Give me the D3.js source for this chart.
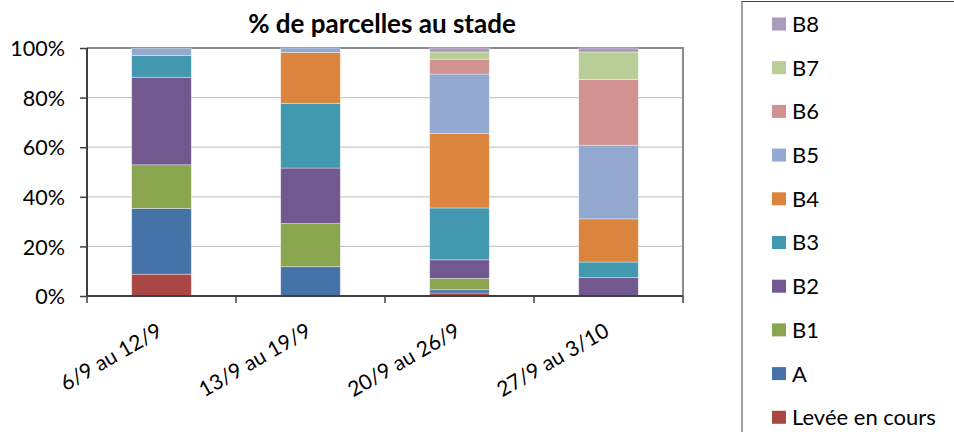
<!DOCTYPE html>
<html>
<head>
<meta charset="utf-8">
<script src="https://cdn.jsdelivr.net/npm/d3@7"></script>
<style>
body { margin: 0; background: #fff; }
text { font-family: Lato, "Open Sans", sans-serif; fill: #000; }
</style>
</head>
<body>
<script>
// semaines
var categories = ["6/9 au 12/9", "13/9 au 19/9", "20/9 au 26/9", "27/9 au 3/10"]

// % de parcelles par stade
var levee  = [8.8, 0, 1.2, 0]
var stadeA = [26.5, 11.8, 1.3, 0]
var b1 = [17.6, 17.4, 4.6, 0]
var b2 = [35.3, 22.4, 7.5, 7.4]
var b3 = [8.8, 26.1, 20.9, 6.3]
var b4 = [0, 20.5, 30.0, 17.4]
var b5 = [2.9, 1.8, 24.0, 29.7]
var b6 = [0, 0, 6.0, 26.5]
var b7 = [0, 0, 2.9, 11.1]
var b8 = [0, 0, 1.6, 1.6]

var seriesNames = ["Levée en cours", "A", "B1", "B2", "B3", "B4", "B5", "B6", "B7", "B8"]
var seriesValues = [levee, stadeA, b1, b2, b3, b4, b5, b6, b7, b8]
var seriesColors = ["#AA4643", "#4572A7", "#89A54E", "#71588F", "#4198AF",
    "#DB843D", "#93A9CF", "#D19392", "#B9CD96", "#A99BBD"]
var yTicks = [0, 20, 40, 60, 80, 100]

var width = 954, height = 432
var margin = {top: 48, right: 271, bottom: 136, left: 87}

var rows = categories.map(function (c, i) {
    var r = {cat: c}
    seriesNames.forEach(function (s, j) { r[s] = seriesValues[j][i] })
    return r
})
var stacked = d3.stack().keys(seriesNames)(rows)

var x = d3.scaleBand().domain(categories).range([margin.left, width - margin.right]).paddingInner(0).paddingOuter(0)
var y = d3.scaleLinear().domain([0, 100]).range([height - margin.bottom, margin.top])
var color = d3.scaleOrdinal().domain(seriesNames).range(seriesColors)

var svg = d3.select("body").append("svg").attr("width", width).attr("height", height)

// grid
svg.append("g").selectAll("line").data(yTicks.filter(function (d) { return d > 0 && d < 100 })).enter()
    .append("line")
    .attr("x1", margin.left).attr("x2", width - margin.right)
    .attr("y1", function (d) { return y(d) }).attr("y2", function (d) { return y(d) })
    .attr("stroke", "#c8c8c8").attr("stroke-width", 1.2)

// plot border (top + right)
svg.append("path")
    .attr("d", "M" + margin.left + "," + y(100) + "H" + (width - margin.right) + "V" + y(0))
    .attr("fill", "none").attr("stroke", "#8c8c8c").attr("stroke-width", 2)

// bars
var barW = x.bandwidth() * 0.4
svg.append("g").selectAll("g").data(stacked).enter()
    .append("g").attr("fill", function (d) { return color(d.key) })
    .selectAll("rect").data(function (d) { return d }).enter()
    .append("rect")
    .attr("x", function (d) { return x(d.data.cat) + (x.bandwidth() - barW) / 2 })
    .attr("width", barW)
    .attr("y", function (d) { return y(d[1]) })
    .attr("height", function (d) { return y(d[0]) - y(d[1]) })
    .attr("stroke", "rgba(255,255,255,0.45)").attr("stroke-width", 0.8)

// y axis
var yAxis = d3.axisLeft(y).tickValues(yTicks).tickSize(7).tickPadding(15)
    .tickFormat(function (d) { return d + "%" })
var gy = svg.append("g").attr("transform", "translate(" + margin.left + ",0)").call(yAxis)
gy.select(".domain").attr("stroke", "#404040").attr("stroke-width", 2).attr("d", "M0," + y(100) + "V" + y(0))
gy.selectAll(".tick line").attr("stroke", "#404040").attr("stroke-width", 1.5)
gy.selectAll("text").style("font-size", "21.5px").attr("font-family", null).attr("dy", "0.36em")

// x axis, ticks at band edges
var edges = categories.map(function (c) { return x(c) }).concat([width - margin.right])
var gx = svg.append("g").attr("transform", "translate(0," + y(0) + ")")
gx.append("line").attr("x1", margin.left).attr("x2", width - margin.right)
    .attr("stroke", "#404040").attr("stroke-width", 2)
gx.selectAll(".edge").data(edges).enter().append("line")
    .attr("x1", function (d) { return d }).attr("x2", function (d) { return d })
    .attr("y1", 0).attr("y2", 7).attr("stroke", "#404040").attr("stroke-width", 1.5)
gx.selectAll(".lab").data(categories).enter().append("text")
    .attr("text-anchor", "end")
    .style("font-size", "21px")
    .attr("transform", function (d) {
        return "translate(" + (x(d) + x.bandwidth() / 2 + 2) + ",39) rotate(-30)"
    })
    .text(function (d) { return d })

// title
svg.append("text")
    .attr("x", (margin.left + width - margin.right) / 2 - 3).attr("y", 33)
    .attr("text-anchor", "middle")
    .style("font-size", "26px").style("font-weight", "bold")
    .text("% de parcelles au stade")

// legend
var legend = svg.append("g")
legend.append("rect").attr("x", 742).attr("y", 1.5).attr("width", 240).attr("height", 460)
    .attr("fill", "none").attr("stroke", "#404040").attr("stroke-width", 1)
var items = legend.selectAll(".item").data(seriesNames.slice().reverse()).enter()
    .append("g")
    .attr("transform", function (d, i) { return "translate(772," + (24 + i * 43.7) + ")" })
items.append("rect").attr("x", 0).attr("y", -6.5).attr("width", 14).attr("height", 13)
    .attr("fill", function (d) { return color(d) })
items.append("text").attr("x", 20).attr("dy", "0.36em").style("font-size", "22px")
    .text(function (d) { return d })
</script>
</body>
</html>
